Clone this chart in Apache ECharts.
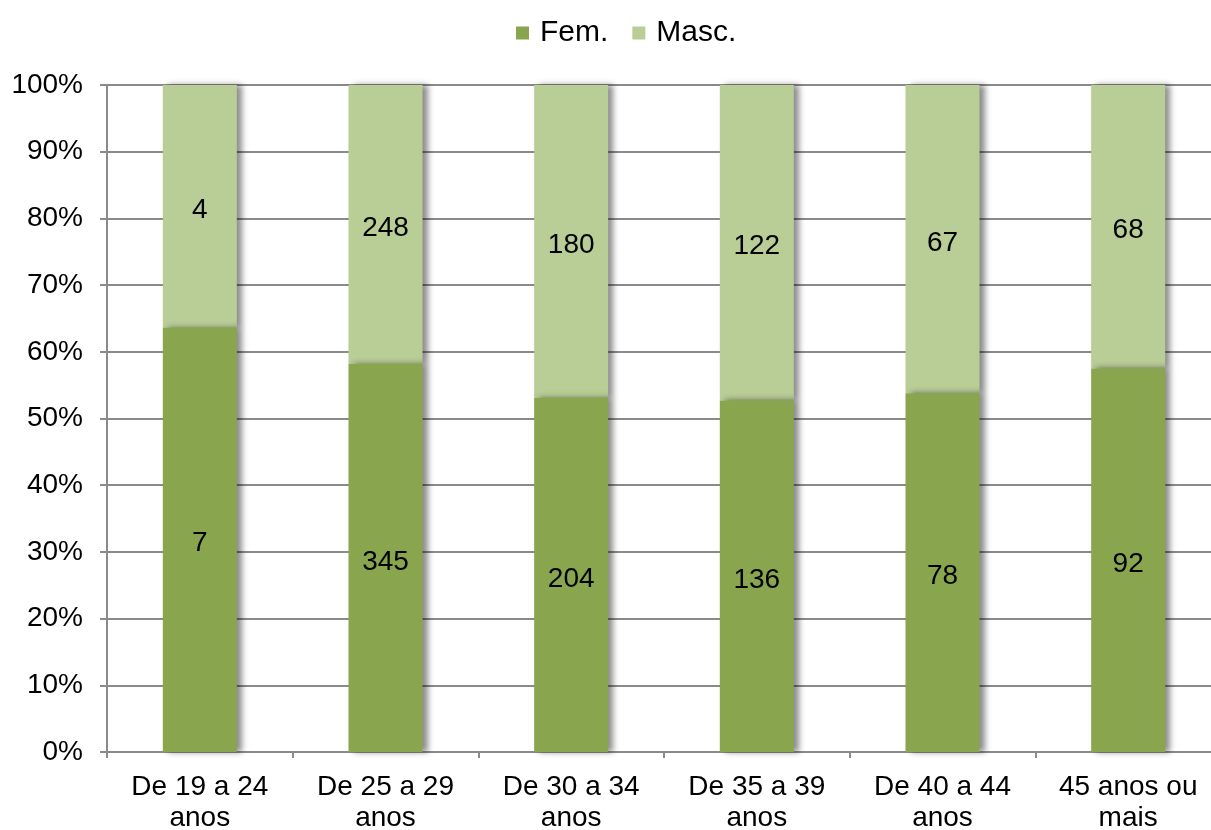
<!DOCTYPE html>
<html>
<head>
<meta charset="utf-8">
<script src="https://cdn.jsdelivr.net/npm/echarts@6/dist/echarts.min.js"></script>
<style>
  html, body { margin: 0; padding: 0; background: #fff; }
  #chart { width: 1211px; height: 830px; }
</style>
</head>
<body>
<div id="chart"></div>
<script>
var categories = ["De 19 a 24\nanos", "De 25 a 29\nanos", "De 30 a 34\nanos", "De 35 a 39\nanos", "De 40 a 44\nanos", "45 anos ou\nmais"];
var fem = [7, 345, 204, 136, 78, 92];
var masc = [4, 248, 180, 122, 67, 68];
var yTicks = [0, 10, 20, 30, 40, 50, 60, 70, 80, 90, 100];

// 100% stacked: share of each group
var femPct = fem.map(function (v, i) { return v / (v + masc[i]) * 100; });
var mascPct = masc.map(function (v, i) { return v / (fem[i] + v) * 100; });

var font = "Liberation Sans, Arial, sans-serif";
var shadow = {
  shadowColor: "rgba(0,0,0,0.45)",
  shadowBlur: 6,
  shadowOffsetX: 5,
  shadowOffsetY: 0
};

var chart = echarts.init(document.getElementById("chart"));
chart.setOption({
  animation: false,
  textStyle: { fontFamily: font },
  legend: {
    top: 13,
    left: 511,
    itemWidth: 13,
    itemHeight: 13,
    itemGap: 24,
    icon: "rect",
    textStyle: { fontSize: 30, color: "#000", padding: [0, 0, 0, 6] },
    data: ["Fem.", "Masc."]
  },
  grid: {
    left: 107,
    right: -10,
    top: 85,
    bottom: 78,
    containLabel: false,
    outerBoundsMode: "none"
  },
  xAxis: {
    type: "category",
    data: categories,
    axisLine: { lineStyle: { color: "#8a8a8a", width: 2 } },
    axisTick: { show: true, length: 6, lineStyle: { color: "#8a8a8a", width: 2 } },
    axisLabel: {
      color: "#000",
      fontSize: 28,
      lineHeight: 31,
      margin: 20,
      interval: 0
    }
  },
  yAxis: {
    type: "value",
    min: 0,
    max: 100,
    interval: 10,
    axisLine: { show: true, lineStyle: { color: "#8a8a8a", width: 2 } },
    axisTick: { show: true, length: 7, lineStyle: { color: "#8a8a8a", width: 2 } },
    splitLine: { show: true, lineStyle: { color: "#8a8a8a", width: 2 } },
    axisLabel: {
      color: "#000",
      fontSize: 28,
      margin: 24,
      formatter: function (v) { return yTicks.indexOf(v) >= 0 ? v + "%" : ""; }
    }
  },
  series: [
    {
      name: "Fem.",
      type: "bar",
      stack: "total",
      barWidth: 74,
      z: 3,
      data: femPct,
      itemStyle: Object.assign({ color: "#89a54e" }, shadow),
      label: {
        show: true,
        position: "inside",
        offset: [0, 4],
        fontSize: 28,
        color: "#000",
        formatter: function (p) { return fem[p.dataIndex]; }
      }
    },
    {
      name: "Masc.",
      type: "bar",
      stack: "total",
      barWidth: 74,
      z: 2,
      data: mascPct,
      itemStyle: Object.assign({ color: "#b9cd96" }, shadow),
      label: {
        show: true,
        position: "inside",
        offset: [0, 4],
        fontSize: 28,
        color: "#000",
        formatter: function (p) { return masc[p.dataIndex]; }
      }
    }
  ]
});
</script>
</body>
</html>
